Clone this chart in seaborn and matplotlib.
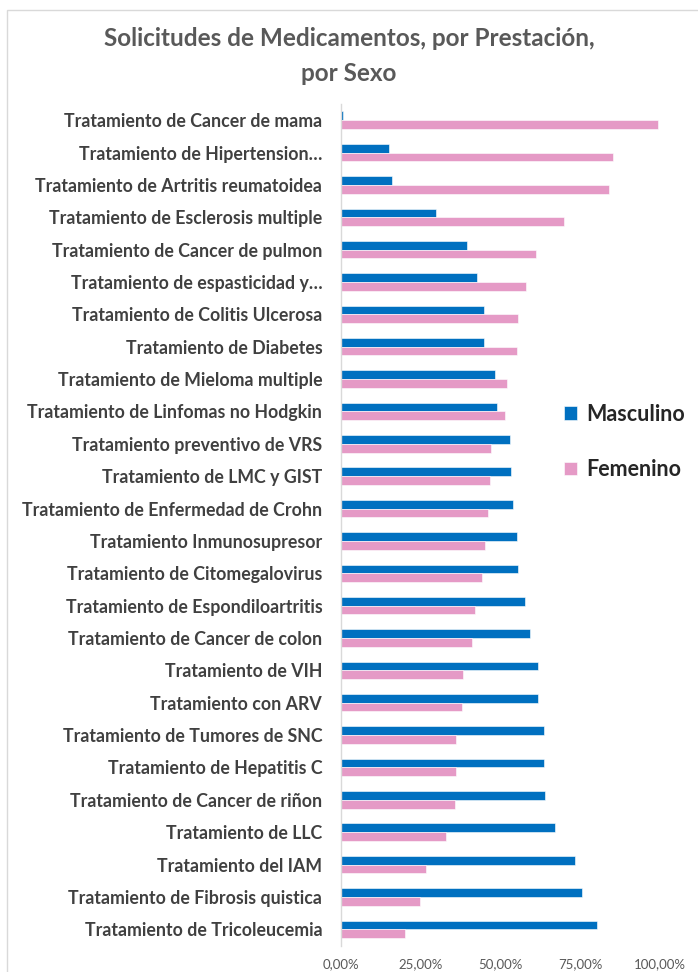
import matplotlib
matplotlib.use("Agg")
import matplotlib.pyplot as plt
import seaborn as sns
import pandas as pd
from matplotlib.patches import Rectangle

categories = [
    "Tratamiento de Cancer de mama",
    "Tratamiento de Hipertension…",
    "Tratamiento de Artritis reumatoidea",
    "Tratamiento de Esclerosis multiple",
    "Tratamiento de Cancer de pulmon",
    "Tratamiento de espasticidad y…",
    "Tratamiento de Colitis Ulcerosa",
    "Tratamiento de Diabetes",
    "Tratamiento de Mieloma multiple",
    "Tratamiento de Linfomas no Hodgkin",
    "Tratamiento preventivo de VRS",
    "Tratamiento de LMC y GIST",
    "Tratamiento de Enfermedad de Crohn",
    "Tratamiento Inmunosupresor",
    "Tratamiento de Citomegalovirus",
    "Tratamiento de Espondiloartritis",
    "Tratamiento de Cancer de colon",
    "Tratamiento de VIH",
    "Tratamiento con ARV",
    "Tratamiento de Tumores de SNC",
    "Tratamiento de Hepatitis C",
    "Tratamiento de Cancer de riñon",
    "Tratamiento de LLC",
    "Tratamiento del IAM",
    "Tratamiento de Fibrosis quistica",
    "Tratamiento de Tricoleucemia",
]
masculino = [0.6, 15.1, 15.9, 29.9, 39.4, 42.5, 44.8, 44.8, 48.4, 48.9,
             53.0, 53.4, 53.9, 55.1, 55.6, 57.8, 59.1, 61.9, 61.9, 63.7,
             63.7, 64.1, 67.2, 73.2, 75.4, 80.3]
femenino = [99.4, 85.4, 84.0, 70.0, 61.1, 58.0, 55.5, 55.1, 52.0, 51.5,
            47.1, 46.6, 46.2, 45.2, 44.3, 42.0, 41.2, 38.4, 38.0, 36.2,
            36.2, 35.7, 33.0, 26.8, 24.9, 20.0]
series_names = ["Masculino", "Femenino"]
tick_values = [0, 25, 50, 75, 100]
tick_labels = ["0,00%", "25,00%", "50,00%", "75,00%", "100,00%"]
title = "Solicitudes de Medicamentos, por Prestación,\npor Sexo"

df = pd.DataFrame({
    "categoria": categories * 2,
    "valor": masculino + femenino,
    "sexo": [series_names[0]] * len(categories) + [series_names[1]] * len(categories),
})

sns.set_theme(style="white")
plt.rcParams["font.family"] = ["Lato", "DejaVu Sans"]

W, H = 698, 972
fig = plt.figure(figsize=(W / 100, H / 100), dpi=100)
ax = fig.add_axes([341 / W, 1 - 945.5 / H, (660 - 341) / W, (945.5 - 104) / H])

palette = {"Masculino": "#0070C0", "Femenino": "#E59AC6"}
sns.barplot(data=df, y="categoria", x="valor", hue="sexo", hue_order=series_names,
            order=categories, orient="h", palette=palette, width=0.54, gap=0,
            saturation=1, ax=ax, legend=True, edgecolor="white", linewidth=0.4)

ax.set_xlim(0, 100)
ax.set_xticks(tick_values)
ax.set_xticklabels(tick_labels, color="#595959", fontsize=9.5)
ax.set_xlabel("")
ax.set_ylabel("")
ax.tick_params(axis="y", length=0, pad=13.5, labelsize=12.8, labelcolor="#404040")
ax.tick_params(axis="x", length=0, pad=9)
for lbl in ax.get_yticklabels():
    lbl.set_fontweight("bold")
for side in ["top", "right", "bottom"]:
    ax.spines[side].set_visible(False)
ax.spines["left"].set_color("#D9D9D9")
ax.spines["left"].set_linewidth(1)

handles, labels = ax.get_legend_handles_labels()
ax.legend(handles, labels, loc="center left",
          bbox_to_anchor=(545 / W, 1 - 442 / H), bbox_transform=fig.transFigure,
          frameon=False, handlelength=0.6, handleheight=0.6, handletextpad=0.4,
          labelspacing=1.6, prop={"weight": "bold", "size": 15.5})

fig.text(0.5, 1 - 56 / H, title, ha="center", va="center", fontsize=17.5,
         fontweight="bold", color="#595959", linespacing=1.62)

fig.patches.append(Rectangle((7 / W, -0.01), 1.0, 1 - 10 / H + 0.01,
                             transform=fig.transFigure, fill=False,
                             edgecolor="#D9D9D9", linewidth=1))

fig.savefig("out.png", dpi=100, facecolor="white")
